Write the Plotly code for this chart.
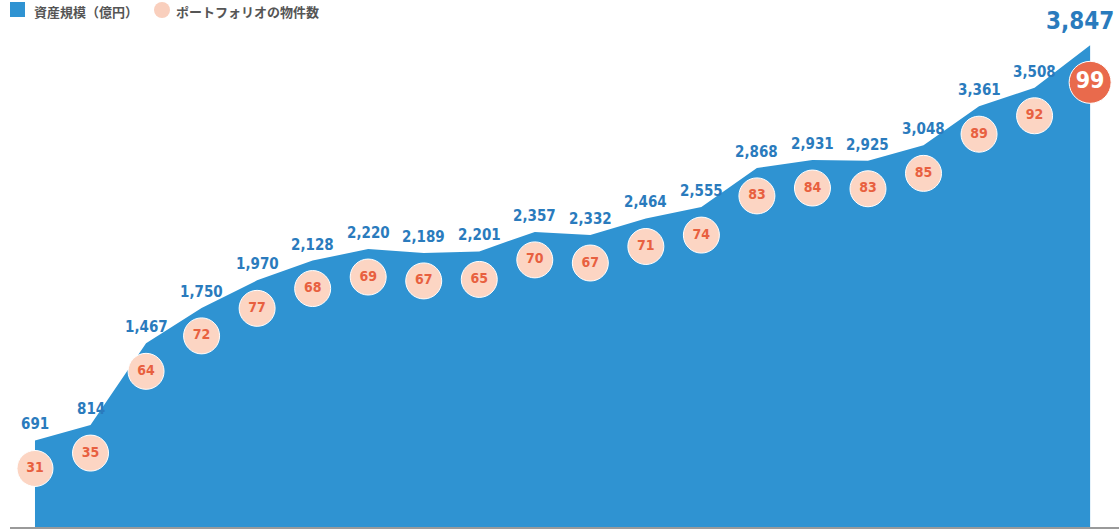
import plotly.graph_objects as go

periods = list(range(20))
asset_values = [691, 814, 1467, 1750, 1970, 2128, 2220, 2189, 2201, 2357,
                2332, 2464, 2555, 2868, 2931, 2925, 3048, 3361, 3508, 3847]
property_counts = [31, 35, 64, 72, 77, 68, 69, 67, 65, 70,
                   67, 71, 74, 83, 84, 83, 85, 89, 92, 99]
asset_labels = [f"{v:,}" for v in asset_values]
count_labels = [str(c) for c in property_counts]
legend_names = ["資産規模（億円）", "ポートフォリオの物件数"]

AREA = "#2f93d2"
LABEL = "#2a7bbd"
PEACH = "#fcd5c3"
RED = "#e8603f"
BIG = "#e96a4c"
FONT = "DejaVu Sans Condensed"
JP = "Noto Sans CJK JP"

W, H = 1119, 529
ML, MR, MT, MB = 10, 0, 0, 2
PW, PH = W - ML - MR, H - MT - MB

Y_MAX = 4209
px = Y_MAX / PH
n = len(periods)
last = n - 1

circle_y = [v - (37 if i == last else 28) * px for i, v in enumerate(asset_values)]
sizes = [42 if i == last else 36 for i in range(n)]
fills = [BIG if i == last else PEACH for i in range(n)]
tcolors = ["white" if i == last else RED for i in range(n)]
tsizes = [23 if i == last else 14 for i in range(n)]

fig = go.Figure()
fig.add_trace(go.Scatter(
    x=periods, y=asset_values, mode="lines", fill="tozeroy",
    line=dict(color=AREA, width=0), fillcolor=AREA,
    name=legend_names[0], hoverinfo="skip", showlegend=False,
))
fig.add_trace(go.Scatter(
    x=periods, y=circle_y, mode="markers+text",
    marker=dict(size=sizes, color=fills, opacity=1,
                line=dict(color="white", width=1)),
    text=count_labels, textposition="middle center",
    textfont=dict(family=FONT, size=tsizes, color=tcolors, weight="bold"),
    name=legend_names[1], hoverinfo="skip", showlegend=False,
))

for i, (x, v, lab) in enumerate(zip(periods, asset_values, asset_labels)):
    big = i == last
    fig.add_annotation(
        x=x, y=v, text=lab, showarrow=False,
        yanchor="bottom", xanchor=("right" if big else "center"),
        xshift=(26 if big else 0),
        yshift=(8 if big else 5),
        font=dict(family=FONT, size=(24 if big else 15), color=LABEL, weight="bold"),
    )


def pxx(p):
    return (p - ML) / PW


def pxy(p):
    return (H - MB - p) / PH


# manual legend at top-left
fig.add_shape(type="rect", xref="paper", yref="paper",
              x0=pxx(10), x1=pxx(25), y0=pxy(17), y1=pxy(2),
              fillcolor=AREA, line=dict(width=0))
fig.add_shape(type="circle", xref="paper", yref="paper",
              x0=pxx(154), x1=pxx(170), y0=pxy(18), y1=pxy(2),
              fillcolor="#f9cfbd", line=dict(width=0))
fig.add_annotation(xref="paper", yref="paper", x=pxx(32), y=pxy(11),
                   xanchor="left", yanchor="middle", showarrow=False,
                   text=legend_names[0],
                   font=dict(family=JP, size=13, color="#555555", weight="bold"))
fig.add_annotation(xref="paper", yref="paper", x=pxx(174), y=pxy(11),
                   xanchor="left", yanchor="middle", showarrow=False,
                   text=legend_names[1],
                   font=dict(family=JP, size=13, color="#555555", weight="bold"))

fig.update_layout(
    width=W, height=H,
    margin=dict(l=ML, r=MR, t=MT, b=MB, autoexpand=False),
    paper_bgcolor="white", plot_bgcolor="white",
    showlegend=False,
    xaxis=dict(range=[-0.45, 19.52], showgrid=False, zeroline=False,
               showticklabels=False, showline=True, linecolor="#9a9a9a",
               linewidth=1.5, ticks="", layer="above traces"),
    yaxis=dict(range=[0, Y_MAX], showgrid=False, zeroline=False,
               showticklabels=False, showline=False, ticks=""),
)

fig.write_html(
    "out.html",
    config={"displayModeBar": False},
    post_script="document.body.style.margin='0';document.body.style.overflow='hidden';",
)
